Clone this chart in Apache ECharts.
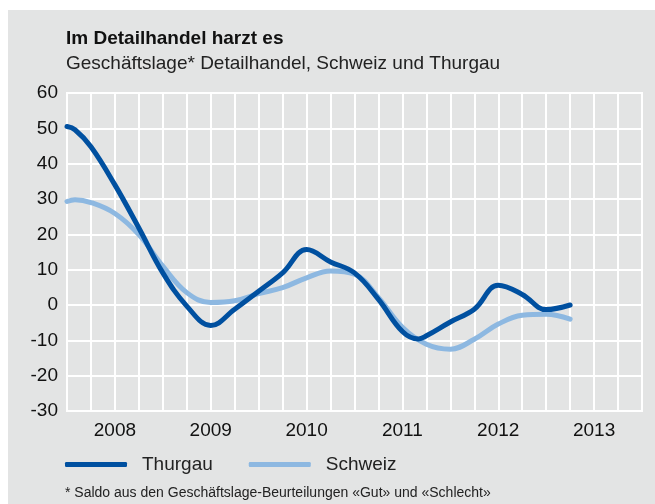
<!DOCTYPE html>
<html>
<head>
<meta charset="utf-8">
<script src="https://cdn.jsdelivr.net/npm/echarts@6/dist/echarts.min.js"></script>
<style>
  html, body { margin: 0; padding: 0; background: #fff; }
  #chart { width: 655px; height: 504px; }
</style>
</head>
<body>
<div id="chart"></div>
<script>
// Geschäftslage Detailhandel, Saldo
const thurgauMonths = ['2007-07', '2007-08', '2007-10', '2008-01', '2008-04', '2008-07', '2008-10',
    '2009-01', '2009-04', '2009-07', '2009-10', '2010-01', '2010-04', '2010-07', '2010-10',
    '2011-01', '2011-03', '2011-04', '2011-07', '2011-10', '2012-01', '2012-04', '2012-07', '2012-10'];
const thurgauValues = [50.5, 49.6, 44.8, 34.0, 21.8, 9.1, -0.3,
    -5.8, -1.2, 3.9, 9.1, 15.7, 12.2, 9.1, 1.6,
    -7.5, -9.6, -8.7, -4.8, -1.2, 5.6, 3.0, -1.3, 0.0];

const schweizMonths = ['2007-07', '2007-08', '2007-10', '2008-01', '2008-04', '2008-07', '2008-10',
    '2009-01', '2009-04', '2009-07', '2009-10', '2010-01', '2010-04', '2010-07', '2010-10',
    '2011-01', '2011-04', '2011-07', '2011-10', '2012-01', '2012-04', '2012-07', '2012-10'];
const schweizValues = [29.3, 29.8, 29.0, 25.9, 19.9, 11.0, 3.5,
    0.7, 1.2, 3.2, 4.9, 7.7, 9.6, 8.7, 2.1,
    -6.3, -11.1, -12.5, -9.7, -5.4, -2.9, -2.6, -4.0];

const seriesNames = ['Thurgau', 'Schweiz'];
const titleText = 'Im Detailhandel harzt es';
const subtitleText = 'Geschäftslage* Detailhandel, Schweiz und Thurgau';
const footnoteText = '* Saldo aus den Geschäftslage-Beurteilungen «Gut» und «Schlecht»';

const FONT = '"Liberation Sans Narrow", "Liberation Sans", sans-serif';
const DARK = '#0050a0';
const LIGHT = '#8db8e1';

// 'YYYY-MM' -> decimal year
function toYear(m) {
    const parts = m.split('-');
    return Number(parts[0]) + (Number(parts[1]) - 1) / 12;
}
function pairs(months, values) {
    return months.map((m, i) => [toYear(m), values[i]]);
}

const chart = echarts.init(document.getElementById('chart'));
chart.setOption({
    animation: false,
    graphic: {
        elements: [{
            type: 'rect',
            z: -10,
            shape: { x: 8, y: 10, width: 647, height: 494 },
            style: { fill: '#e3e4e4' }
        }]
    },
    title: [{
        text: titleText,
        subtext: subtitleText,
        left: 61,
        top: 24,
        itemGap: 6,
        textStyle: { fontFamily: FONT, fontWeight: 'bold', fontSize: 19, color: '#111' },
        subtextStyle: { fontFamily: FONT, fontSize: 19, color: '#222' }
    }, {
        text: footnoteText,
        left: 60,
        top: 481,
        textStyle: { fontFamily: FONT, fontWeight: 'normal', fontSize: 14, color: '#222' }
    }],
    legend: {
        left: 60,
        top: 450,
        icon: 'roundRect',
        itemWidth: 62,
        itemHeight: 5,
        itemGap: 36,
        data: seriesNames,
        textStyle: { fontFamily: FONT, fontSize: 19, color: '#222', padding: [0, 0, 0, 10] }
    },
    grid: {
        left: 67,
        right: 13,
        top: 93,
        bottom: 93,
        show: true,
        borderColor: '#fff',
        borderWidth: 2
    },
    xAxis: {
        type: 'value',
        min: 2007.5,
        max: 2013.5,
        interval: 0.25,
        axisLine: { show: false },
        axisTick: { show: false },
        splitLine: { show: true, lineStyle: { color: '#fff', width: 2 } },
        axisLabel: {
            margin: 10,
            fontFamily: FONT,
            fontSize: 19,
            color: '#111',
            showMinLabel: false,
            showMaxLabel: false,
            formatter: (v) => Number.isInteger(v) ? String(v) : ''
        }
    },
    yAxis: {
        type: 'value',
        min: -30,
        max: 60,
        interval: 10,
        axisLine: { show: false },
        axisTick: { show: false },
        splitLine: { show: true, lineStyle: { color: '#fff', width: 2 } },
        axisLabel: { margin: 9, fontFamily: FONT, fontSize: 19, color: '#111' }
    },
    series: [{
        name: seriesNames[1],
        type: 'line',
        data: pairs(schweizMonths, schweizValues),
        smooth: 0.4,
        showSymbol: false,
        color: LIGHT,
        lineStyle: { width: 5, color: LIGHT, cap: 'round', join: 'round' }
    }, {
        name: seriesNames[0],
        type: 'line',
        data: pairs(thurgauMonths, thurgauValues),
        smooth: 0.4,
        showSymbol: false,
        color: DARK,
        lineStyle: { width: 5, color: DARK, cap: 'round', join: 'round' }
    }]
});
</script>
</body>
</html>
